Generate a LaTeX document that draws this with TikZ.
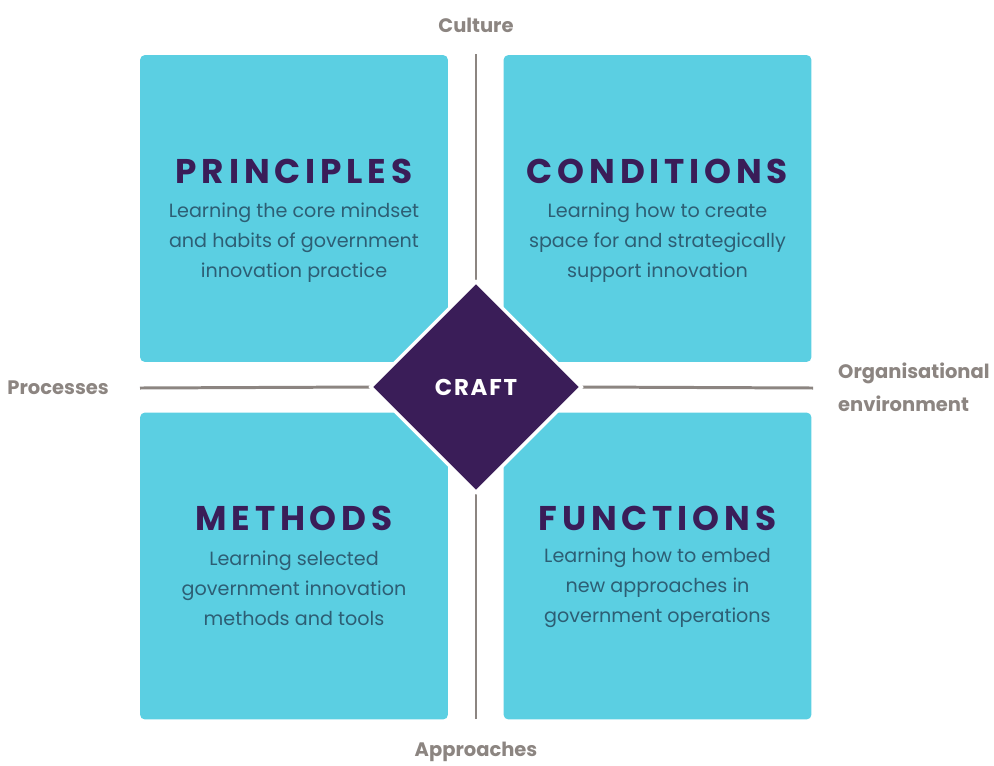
\documentclass[tikz,border=0pt]{standalone}
\usepackage{fontspec}
\setmainfont{Poppins}
\usetikzlibrary{shapes.geometric,positioning}

\definecolor{boxcyan}{HTML}{5BCFE2}
\definecolor{craftpurple}{HTML}{3A1D58}
\definecolor{bodyteal}{HTML}{2D5E74}
\definecolor{axisgrey}{HTML}{8C8581}

\tikzset{
  quadrant/.style={fill=boxcyan, rounded corners=2.8pt, minimum width=6.16cm, minimum height=6.14cm, inner sep=0pt},
  qtitle/.style={text=craftpurple, font=\fontsize{19.5}{22}\selectfont\bfseries\addfontfeature{LetterSpace=14}},
  qbody/.style={text=bodyteal, align=center, font=\fontsize{10.9}{17}\selectfont},
  axislabel/.style={text=axisgrey, font=\fontsize{11.1}{19}\selectfont\bfseries},
  axisline/.style={draw=axisgrey, line width=1.7pt},
}

\begin{document}
\begin{tikzpicture}[x=0.02cm,y=-0.02cm]
  \useasboundingbox (0,0) rectangle (994,765);

  % four quadrants
  \node[quadrant] (principles) at (294,208.5) {};
  \node[quadrant] (conditions) at (657.5,208.5) {};
  \node[quadrant] (methods) at (294,566) {};
  \node[quadrant] (functions) at (657.5,566) {};

  % axis end points
  \coordinate (culture-end) at (476,54);
  \coordinate (approach-end) at (476,719);
  \coordinate (process-end) at (140,388);
  \coordinate (environ-end) at (813,388);

  % centre
  \node[diamond, aspect=1, minimum width=4.24cm, minimum height=4.24cm, inner sep=0pt] (craftbg) at (476,387) {};
  \draw[axisline] (culture-end) -- (craftbg.north);
  \draw[axisline] (approach-end) -- (craftbg.south);
  \draw[axisline] (process-end) -- (craftbg.west);
  \draw[axisline] (environ-end) -- (craftbg.east);
  \node[diamond, aspect=1, fill=craftpurple, draw=white, line width=2pt, minimum width=4.24cm, minimum height=4.24cm, inner sep=0pt,
        text=white, font=\fontsize{13}{14}\selectfont\bfseries\addfontfeature{LetterSpace=8}] (craft) at (476,387) {CRAFT};

  % titles and descriptions
  \node[qtitle] (principlesT) at (294,171) {PRINCIPLES};
  \node[qbody] (principlesB) at (294,243) {Learning the core mindset\\and habits of government\\innovation practice};
  \node[qtitle] (conditionsT) at (657.5,171) {CONDITIONS};
  \node[qbody] (conditionsB) at (657.5,243) {Learning how to create\\space for and strategically\\support innovation};
  \node[qtitle] (methodsT) at (294,518) {METHODS};
  \node[qbody] (methodsB) at (294,588) {Learning selected\\government innovation\\methods and tools};
  \node[qtitle] (functionsT) at (657.5,518) {FUNCTIONS};
  \node[qbody] (functionsB) at (657.5,588) {Learning how to embed\\new approaches in\\government operations};

  % axis labels
  \node[axislabel] (culture) at (476,25) {Culture};
  \node[axislabel] (approaches) at (476,752) {Approaches};
  \node[axislabel, anchor=east] (processes) at (115,388) {Processes};
  \node[axislabel, anchor=west, align=left] (environment) at (832,387) {Organisational\\environment};
\end{tikzpicture}
\end{document}
